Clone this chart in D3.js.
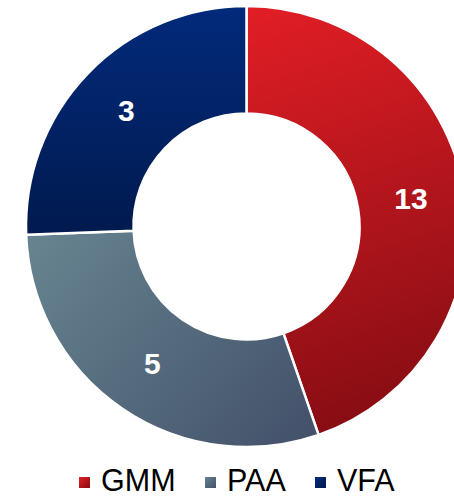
<!DOCTYPE html>
<html><head><meta charset="utf-8">
<script src="https://cdn.jsdelivr.net/npm/d3@7"></script>
<style>body{margin:0;background:#fff}svg{display:block}</style>
</head><body>
<svg id="c" width="454" height="499"></svg>
<script>
const categories = ["GMM", "PAA", "VFA"];
const shares = [44.7, 29.7, 25.6];          // slice sizes
const labels = ["13", "5", "3"];            // numbers printed on the slices
const colorsLight = ["#e31e26", "#66838f", "#022a7b"];
const colorsDark  = ["#860d13", "#43516a", "#011a4e"];

const svg = d3.select("#c");
const cx = 246.5, cy = 226.5, rOuter = 220.5, rInner = 113;
const defs = svg.append("defs");
const grads = [
  {x1: -20, y1: -220, x2: 120, y2: 200},
  {x1: -200, y1: 0, x2: 60, y2: 220},
  {x1: 0, y1: -220, x2: 0, y2: 10}
];
categories.forEach((c, i) => {
  const g = defs.append("linearGradient").attr("id", "g" + i)
    .attr("gradientUnits", "userSpaceOnUse")
    .attr("x1", grads[i].x1).attr("y1", grads[i].y1)
    .attr("x2", grads[i].x2).attr("y2", grads[i].y2);
  g.append("stop").attr("offset", "0%").attr("stop-color", colorsLight[i]);
  g.append("stop").attr("offset", "100%").attr("stop-color", colorsDark[i]);
});
const lg = defs.selectAll(".lg").data(categories).enter().append("linearGradient")
  .attr("id", (d, i) => "lg" + i).attr("x1", 0).attr("y1", 0).attr("x2", 1).attr("y2", 1);
lg.append("stop").attr("offset", "0%").attr("stop-color", (d, i) => colorsLight[i]);
lg.append("stop").attr("offset", "100%").attr("stop-color", (d, i) => colorsDark[i]);

const pie = d3.pie().sort(null).value(d => d)(shares);
const arc = d3.arc().innerRadius(rInner).outerRadius(rOuter);
const g = svg.append("g").attr("transform", `translate(${cx},${cy})`);
g.selectAll("path").data(pie).enter().append("path")
  .attr("d", arc).attr("fill", (d, i) => `url(#g${i})`)
  .attr("stroke", "#fff").attr("stroke-width", 2.5);
g.selectAll("text").data(pie).enter().append("text")
  .attr("transform", d => `translate(${arc.centroid(d)})`)
  .attr("text-anchor", "middle").attr("dy", "0.34em")
  .attr("font-family", "Liberation Sans, Arial, sans-serif")
  .attr("font-weight", "bold").attr("font-size", 30).attr("fill", "#fff")
  .text((d, i) => labels[i]);

const legX = [79, 205, 315];
const leg = svg.append("g");
categories.forEach((c, i) => {
  leg.append("rect").attr("x", legX[i]).attr("y", 477).attr("width", 11).attr("height", 11)
    .attr("fill", `url(#lg${i})`);
  leg.append("text").attr("x", legX[i] + 22).attr("y", 491)
    .attr("font-family", "Liberation Sans, Arial, sans-serif").attr("font-size", 30.5)
    .attr("fill", "#000").text(c);
});
</script>
</body></html>
